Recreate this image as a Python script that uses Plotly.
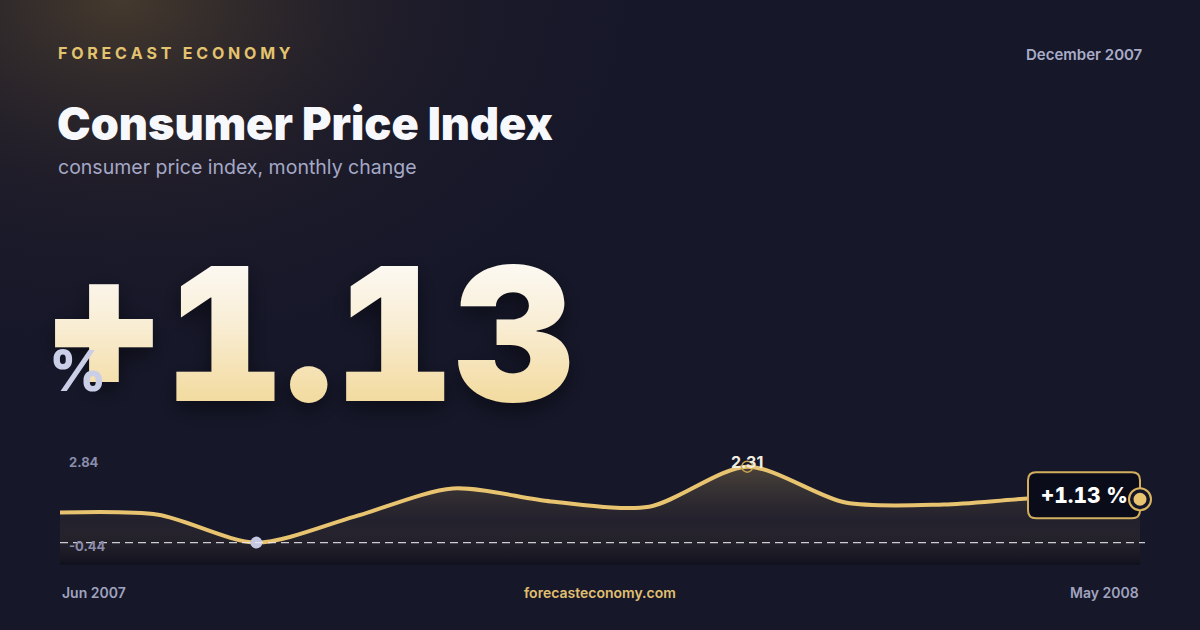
import plotly.graph_objects as go

W, H = 1200, 630

# monthly change of the consumer price index
months = ["Jun 2007", "Jul 2007", "Aug 2007", "Sep 2007", "Oct 2007", "Nov 2007",
          "Dec 2007", "Jan 2008", "Feb 2008", "Mar 2008", "Apr 2008", "May 2008"]
cpi_change = [0.65, 0.57, -0.44, 0.50, 1.52, 1.05, 0.86, 2.31, 1.01, 0.94, 1.18, 1.13]
scale_top = 2.84
scale_labels = ["2.84", "-0.44"]
headline = "+1.13"
period = "December 2007"

BG = "#161729"
GOLD = "#E8C470"


def px(x):
    return x / W


def py(y):
    return 1 - y / H


def ann(text, x, y, size, color, weight=400, xanchor="left", family="Inter", **kw):
    font = dict(family=family, size=size, color=color, weight=weight)
    font.update(kw.pop("font_extra", {}))
    return dict(text=text, x=px(x), y=py(y), xref="paper", yref="paper",
                xanchor=xanchor, yanchor="middle", showarrow=False, font=font, **kw)


fig = go.Figure()

# warm glow along the top-left
glow_cx, glow_rx, glow_ry = 120, 560, 380
fig.add_trace(go.Scatter(
    x=[glow_cx - glow_rx, glow_cx + glow_rx, glow_cx + glow_rx, glow_cx - glow_rx, glow_cx - glow_rx],
    y=[-glow_ry, -glow_ry, glow_ry, glow_ry, -glow_ry],
    mode="lines", line=dict(width=0), fill="toself",
    fillgradient=dict(type="radial",
                      colorscale=[[0, "rgba(80,66,46,0.8)"], [0.5, "rgba(46,38,42,0.38)"], [1, "rgba(22,23,41,0)"]]),
    hoverinfo="skip", showlegend=False, xaxis="x", yaxis="y"))

n = len(months)
lo = min(cpi_change)
hi = max(cpi_change)
i_lo = cpi_change.index(lo)
i_hi = cpi_change.index(hi)
floor = -1.25

# pixel layout of the small chart
x_left, x_right, y_top, y_bot = 60, 1140, 452, 565
step = (x_right - x_left) / (n - 1)
extra = 24  # room for the end marker

# baseline for the area fill
fig.add_trace(go.Scatter(x=list(range(n)), y=[floor] * n, mode="lines",
                         line=dict(width=0), hoverinfo="skip", showlegend=False,
                         xaxis="x2", yaxis="y2"))
fig.add_trace(go.Scatter(
    x=list(range(n)), y=cpi_change, mode="lines",
    line=dict(color=GOLD, width=4, shape="spline", smoothing=0.8),
    fill="tonexty",
    fillgradient=dict(type="vertical", start=floor, stop=hi,
                      colorscale=[[0, "rgba(8,8,16,0.45)"], [0.45, "rgba(120,100,70,0.13)"],
                                  [1, "rgba(232,196,106,0.25)"]]),
    hoverinfo="skip", showlegend=False, xaxis="x2", yaxis="y2", cliponaxis=False))

# min / max markers
fig.add_trace(go.Scatter(x=[i_lo], y=[lo], mode="markers",
                         marker=dict(size=12, color="#C4C8E2"),
                         showlegend=False, xaxis="x2", yaxis="y2", cliponaxis=False))
fig.add_trace(go.Scatter(x=[i_hi], y=[hi], mode="markers",
                         marker=dict(size=11, color="rgba(0,0,0,0)", line=dict(color="#C9A24E", width=1.5)),
                         showlegend=False, xaxis="x2", yaxis="y2", cliponaxis=False))

last_x, last_y = n - 1, cpi_change[-1]
shapes = [
    dict(type="line", xref="x2", yref="y2", x0=0, x1=n - 1 + 5 / step, y0=lo, y1=lo,
         line=dict(color="rgba(235,235,245,0.85)", width=1.2, dash="8px,5px"), layer="above"),
    # end label box, anchored on the last point
    dict(type="path", xref="x2", yref="y2", xsizemode="pixel", ysizemode="pixel",
         xanchor=last_x, yanchor=last_y,
         path="M -104,-19 L -8,-19 Q 0,-19 0,-11 L 0,19 Q 0,27 -8,27 L -104,27 Q -112,27 -112,19 "
              "L -112,-11 Q -112,-19 -104,-19 Z",
         fillcolor="#0B0C1A", line=dict(color="#D2AF5E", width=2), layer="above"),
    dict(type="circle", xref="x2", yref="y2", xsizemode="pixel", ysizemode="pixel",
         xanchor=last_x, yanchor=last_y, x0=-11, x1=11, y0=-11, y1=11,
         fillcolor="#15162A", line=dict(color="#D9B560", width=2), layer="above"),
    dict(type="circle", xref="x2", yref="y2", xsizemode="pixel", ysizemode="pixel",
         xanchor=last_x, yanchor=last_y, x0=-6.5, x1=6.5, y0=-6.5, y1=6.5,
         fillcolor=GOLD, line=dict(width=0), layer="above"),
]

spaced = "\u00a0".join("FORECAST") + "\u00a0\u00a0\u00a0" + "\u00a0".join("ECONOMY")

annotations = [
    ann(spaced, 56, 53, 16, "#E3C36F", 700),
    ann(period, 1145, 54, 15, "#A9ACC8", 600, xanchor="right"),
    ann("Consumer Price Index", 55, 124, 45, "#F7F8FC", 900),
    ann("consumer price index, monthly change", 56, 167, 19.5, "#A5A8C6", 400),
    ann(headline, 70, 333, 186, "#F7E9C6", 900,
        font_extra=dict(shadow="0px 8px 22px rgba(0,0,0,0.45)")),
    ann("%", 47, 371, 56, "#CACEE6", 800),
    ann(scale_labels[0], 67, 462, 13, "#8A8DAB", 700),
    ann(scale_labels[1], 67, 546, 13, "#8A8DAB", 700),
    ann(months[0], 60, 592, 14, "#A0A3BF", 600),
    ann(months[-1], 1141, 592, 14, "#A0A3BF", 600, xanchor="right"),
    ann("forecasteconomy.com", 600, 592, 14, "#E0C070", 600, xanchor="center"),
    dict(text=f"{hi:.2f}", x=i_hi, y=hi, xref="x2", yref="y2", yshift=5,
         showarrow=False, font=dict(family="Inter", size=16, color="#F2EDE0", weight=700)),
    dict(text=f"{last_y:+.2f} %", x=last_x, y=last_y, xref="x2", yref="y2",
         xshift=-56, yshift=4, showarrow=False,
         font=dict(family="Inter", size=21, color="#FFFFFF", weight=800)),
]

fig.update_layout(
    width=W, height=H,
    margin=dict(l=0, r=0, t=0, b=0),
    paper_bgcolor=BG, plot_bgcolor="rgba(0,0,0,0)",
    xaxis=dict(domain=[0, 1], range=[0, W], visible=False, fixedrange=True),
    yaxis=dict(domain=[0, 1], range=[H, 0], visible=False, fixedrange=True),
    xaxis2=dict(domain=[px(x_left), px(x_right + extra)], range=[0, n - 1 + extra / step],
                visible=False, anchor="y2", fixedrange=True),
    yaxis2=dict(domain=[py(y_bot), py(y_top)], range=[floor, scale_top], visible=False,
                anchor="x2", fixedrange=True),
    shapes=shapes,
    annotations=annotations,
    showlegend=False,
)

# drop the page margin, give the headline its white-to-gold gradient and tabular digits
post = """
document.body.style.margin = '0';
var gd = document.getElementById('{plot_id}');
var ns = 'http://www.w3.org/2000/svg';
var svg = gd.querySelector('svg.main-svg');
var defs = svg.querySelector('defs');
var lg = document.createElementNS(ns, 'linearGradient');
lg.setAttribute('id', 'headGrad');
lg.setAttribute('x1', '0'); lg.setAttribute('y1', '0');
lg.setAttribute('x2', '0'); lg.setAttribute('y2', '1');
[['0.12', '#FDFCFA'], ['0.45', '#F9EED6'], ['0.78', '#F3DCA2']].forEach(function (s) {
  var st = document.createElementNS(ns, 'stop');
  st.setAttribute('offset', s[0]); st.setAttribute('stop-color', s[1]);
  lg.appendChild(st);
});
defs.appendChild(lg);
gd.querySelectorAll('.annotation-text').forEach(function (t) {
  if (t.textContent === '""" + headline + """') {
    t.style.fill = 'url(#headGrad)';
    t.style.fontVariantNumeric = 'tabular-nums';
  }
  if (t.textContent.indexOf('%') > 0) {
    t.style.fontVariantNumeric = 'tabular-nums';
  }
});
"""

fig.write_html("out.html", config={"displayModeBar": False}, post_script=post)
